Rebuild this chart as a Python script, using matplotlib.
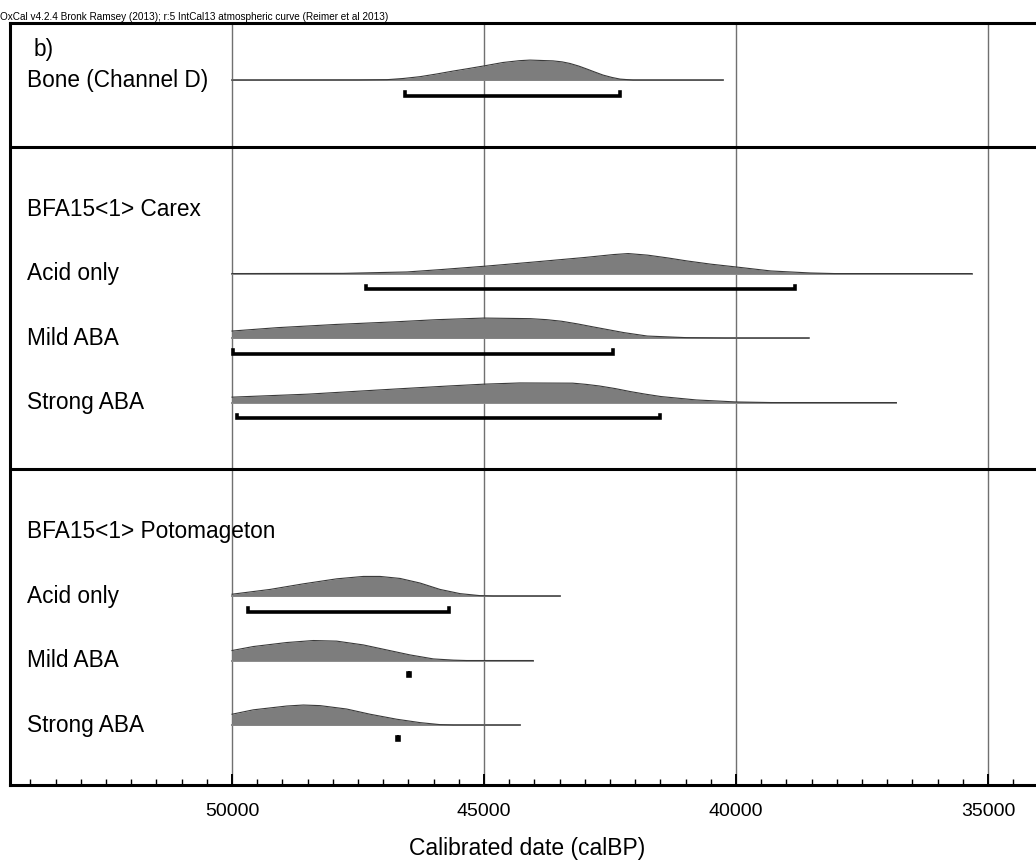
import matplotlib
matplotlib.use("Agg")
import matplotlib.pyplot as plt
import matplotlib.transforms as mtransforms
from matplotlib.ticker import MultipleLocator

plt.rcParams["font.family"] = ["Liberation Sans", "DejaVu Sans"]

# --- data (calBP, relative probability) ---
header = "OxCal v4.2.4 Bronk Ramsey (2013); r:5 IntCal13 atmospheric curve (Reimer et al 2013)"

bone_years = [50000, 47500, 46925, 46600, 46270, 45950, 45615, 45300, 45020, 44623, 44300, 44088,
              43631, 43450, 43294, 43120, 42957, 42800, 42639, 42460, 42302, 42044, 40258]
bone_dens = [0, 0.005, 0.02, 0.08, 0.17, 0.30, 0.45, 0.58, 0.70, 0.88, 0.97, 1.0,
             0.96, 0.91, 0.83, 0.70, 0.55, 0.40, 0.25, 0.13, 0.05, 0.0, 0]

carex_acid_years = [50000, 47800, 46530, 45850, 44970, 44000, 43020, 42430, 42140, 41750, 41350,
                    40970, 40500, 40000, 39310, 38530, 38050, 35320]
carex_acid_dens = [0, 0.01, 0.08, 0.2, 0.37, 0.58, 0.8, 0.95, 1.0, 0.92, 0.78,
                   0.63, 0.47, 0.33, 0.13, 0.03, 0, 0]

carex_mild_years = [50000, 49100, 47940, 46780, 45930, 45000, 44080, 43760, 43460, 43150, 42840,
                    42520, 42220, 41760, 40980, 40210, 38560]
carex_mild_dens = [0.35, 0.52, 0.68, 0.81, 0.92, 1.0, 0.97, 0.92, 0.84, 0.71, 0.56,
                   0.41, 0.27, 0.1, 0.02, 0, 0]

carex_strong_years = [50000, 48494, 46742, 45690, 45000, 44290, 43240, 42980, 42714, 42400, 42100,
                      41800, 41490, 40790, 40000, 39300, 36820]
carex_strong_dens = [0.27, 0.42, 0.68, 0.83, 0.92, 0.98, 0.97, 0.91, 0.83, 0.70, 0.55,
                     0.42, 0.3, 0.13, 0.03, 0, 0]

pot_acid_years = [50000, 49246, 48585, 47923, 47394, 47063, 46667, 46270, 45873, 45476, 45080, 44815, 43492]
pot_acid_dens = [0.09, 0.33, 0.61, 0.86, 0.98, 0.98, 0.88, 0.65, 0.33, 0.12, 0.02, 0, 0]

pot_mild_years = [50000, 49577, 48915, 48386, 47923, 47394, 46931, 46468, 46005, 45608, 45344, 44025]
pot_mild_dens = [0.5, 0.7, 0.9, 1.0, 0.97, 0.78, 0.53, 0.28, 0.08, 0.02, 0, 0]

pot_strong_years = [50000, 49577, 48915, 48585, 48254, 47725, 47262, 46733, 46270, 45873, 45608, 44286]
pot_strong_dens = [0.54, 0.76, 0.95, 1.0, 0.97, 0.8, 0.54, 0.29, 0.12, 0.02, 0, 0]

# 95.4% ranges (start, end)
ranges = {
    "bone": (46567, 42302),
    "carex_acid": (47350, 38830),
    "carex_mild": (49990, 42450),
    "carex_strong": (49900, 41500),
    "pot_acid": (49680, 45695),
    "pot_mild": (46500, 46460),
    "pot_strong": (46730, 46690),
}

row_labels = ["Bone (Channel D)", "BFA15<1> Carex", "Acid only", "Mild ABA", "Strong ABA",
              "BFA15<1> Potomageton", "Acid only", "Mild ABA", "Strong ABA"]
row_pos = [1, 3, 4, 5, 6, 8, 9, 10, 11]
dividers = [2, 7]

major_ticks = [50000, 45000, 40000, 35000]

dists = [
    (1, bone_years, bone_dens, "bone"),
    (4, carex_acid_years, carex_acid_dens, "carex_acid"),
    (5, carex_mild_years, carex_mild_dens, "carex_mild"),
    (6, carex_strong_years, carex_strong_dens, "carex_strong"),
    (9, pot_acid_years, pot_acid_dens, "pot_acid"),
    (10, pot_mild_years, pot_mild_dens, "pot_mild"),
    (11, pot_strong_years, pot_strong_dens, "pot_strong"),
]

fig = plt.figure(figsize=(10.36, 8.61), dpi=100)
ax = fig.add_axes([10 / 1036, 76 / 861, 1034 / 1036, 762 / 861])
ax.set_xlim(54405, 33890)
ax.set_ylim(11.9, 0.085)

for yr in major_ticks:
    ax.axvline(yr, color="#707070", lw=1.0, zorder=1)

peak = 0.31
for y, xs, ds, key in dists:
    ax.plot([xs[0], xs[-1]], [y - 0.03, y - 0.03], color="#8c8c8c", lw=1.4, zorder=2)
    top = [y - 0.03 - peak * d for d in ds]
    ax.fill_between(xs, y - 0.03, top, color="#7d7d7d", lw=0, zorder=3)
    ax.plot(xs, top, color="#3a3a3a", lw=0.8, zorder=3)
    a, b = ranges[key]
    yb = y + 0.21
    ax.plot([a, a, b, b], [yb - 0.05, yb, yb, yb - 0.05], color="black", lw=2.6,
            solid_joinstyle="miter", zorder=4)

for y in dividers:
    ax.axhline(y, color="black", lw=2.2, zorder=5)

tr = mtransforms.blended_transform_factory(ax.transAxes, ax.transData)
ax.text(0.0225, 0.50, "b)", transform=tr, fontsize=16.3, va="center", ha="left")
for lab, y in zip(row_labels, row_pos):
    ax.text(0.0165, y - 0.03, lab, transform=tr, fontsize=16.3, va="center", ha="left")

for side in ["left", "top", "bottom"]:
    ax.spines[side].set_linewidth(2.2)
ax.spines["right"].set_visible(False)

ax.set_yticks([])
ax.set_xticks(major_ticks)
ax.set_xticklabels([str(t) for t in major_ticks])
ax.xaxis.set_minor_locator(MultipleLocator(500))
ax.tick_params(axis="x", which="major", direction="in", length=8, width=1.4, labelsize=14, pad=13)
ax.tick_params(axis="x", which="minor", direction="in", length=4, width=1.0)
ax.set_xlabel("Calibrated date (calBP)", fontsize=16.5, labelpad=12)

fig.text(0.5 / 1036, 1 - 22 / 861, header, fontsize=7.2, va="bottom", ha="left")

fig.savefig("out.png", dpi=100)
